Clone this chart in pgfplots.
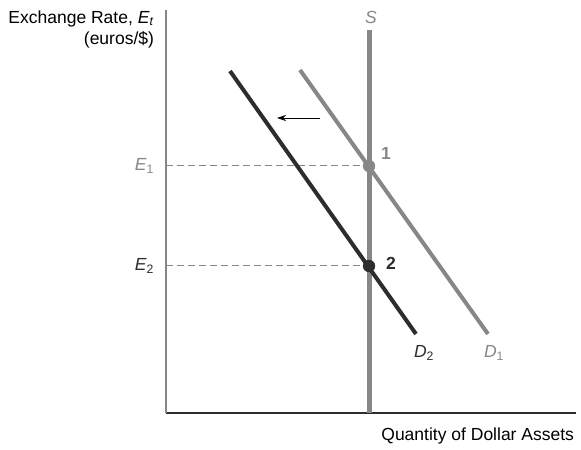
\documentclass[border=0pt]{standalone}
\usepackage{pgfplots}
\pgfplotsset{compat=1.18}
\usepackage{fontspec}
\setmainfont{Liberation Sans}
\usetikzlibrary{arrows.meta}
\definecolor{lgray}{RGB}{135,135,135}
\definecolor{dgray}{RGB}{45,45,45}
\begin{document}
\fontsize{17.5}{21}\selectfont
\begin{tikzpicture}
\begin{axis}[
  at={(166pt,31pt)}, anchor=south west,
  x=1pt, y=1pt,
  xmin=166, xmax=576, ymin=31, ymax=434,
  axis x line=bottom, axis y line=left,
  x axis line style={-, color=dgray, line width=1.3pt},
  y axis line style={-, color=lgray, line width=1.3pt},
  xtick=\empty, ytick=\empty,
  clip=false,
  every node/.style={font=\fontsize{17.5}{21}\selectfont},
]
% dashed guides
\addplot[lgray, line width=1pt, dash pattern=on 7pt off 4pt] coordinates {(166,278) (369,278)};
\addplot[lgray, line width=1pt, dash pattern=on 7pt off 4pt] coordinates {(166,178) (369,178)};
% supply
\addplot[lgray, line width=5pt] coordinates {(369,31) (369,414)};
% demand curves
\addplot[lgray, line width=4pt] coordinates {(300,374) (488,110)};
\addplot[dgray, line width=4pt] coordinates {(230,373) (416,110)};
% equilibria
\addplot[only marks, mark=*, mark size=6pt, color=lgray] coordinates {(369,278)};
\addplot[only marks, mark=*, mark size=6pt, color=dgray] coordinates {(369,178)};
% shift arrow
\addplot[black, line width=0.8pt, -{Stealth[length=9pt,width=6pt]}] coordinates {(320,326) (277,326)};
% labels
\node[lgray, anchor=east] at (axis cs:160,278) {\textit{E}\textsubscript{1}};
\node[dgray, anchor=east] at (axis cs:160,178) {\textit{E}\textsubscript{2}};
\node[lgray] at (axis cs:386,291) {\textbf{1}};
\node[dgray] at (axis cs:391,181) {\textbf{2}};
\node[lgray] at (axis cs:371,427) {\textit{S}};
\node[dgray] at (axis cs:424,91) {\textit{D}\textsubscript{2}};
\node[lgray] at (axis cs:494,91) {\textit{D}\textsubscript{1}};
\node[anchor=east, align=right] at (axis cs:160,415) {Exchange Rate, \textit{E}\textsubscript{\textit{t}}\\(euros/\$)};
\node[anchor=east] at (axis cs:580,8) {Quantity of Dollar Assets};
\end{axis}
\useasboundingbox (0,0) rectangle (581pt,444pt);
\end{tikzpicture}
\end{document}
